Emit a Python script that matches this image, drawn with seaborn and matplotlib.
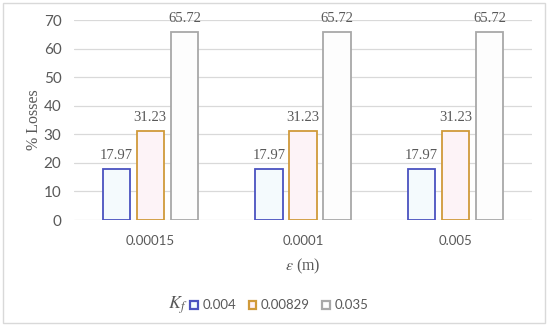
import matplotlib
matplotlib.use('Agg')
import matplotlib.pyplot as plt
from matplotlib.patches import Patch, Rectangle
import seaborn as sns
import pandas as pd

# ── Data ───────────────────────────────────────────────────────────────────────
roughness = ['0.00015', '0.0001', '0.005']
kf_values = ['0.004', '0.00829', '0.035']
losses = {
    '0.004':   [17.97, 17.97, 17.97],
    '0.00829': [31.23, 31.23, 31.23],
    '0.035':   [65.72, 65.72, 65.72],
}

edge_colors = ['#4a52c0', '#d09a3a', '#a8a8a8']
fill_colors = ['#f2fbff', '#fff1f6', '#fdfdfd']
text_color = '#595959'

rows = []
for kf in kf_values:
    for eps, val in zip(roughness, losses[kf]):
        rows.append({'eps': eps, 'kf': kf, 'loss': val})
df = pd.DataFrame(rows)

# ── Plot ───────────────────────────────────────────────────────────────────────
sns.set_theme(style='white')
plt.rcParams['font.family'] = ['Liberation Serif', 'DejaVu Serif']
plt.rcParams['mathtext.fontset'] = 'stix'

fig = plt.figure(figsize=(5.5, 3.32), dpi=100)
ax = fig.add_axes([0.1345, 0.3373, 0.8327, 0.6024])

sns.barplot(data=df, x='eps', y='loss', hue='kf', order=roughness,
            hue_order=kf_values, palette=fill_colors, width=0.67, gap=0.2,
            legend=False, ax=ax)

for cont, ec in zip(ax.containers, edge_colors):
    for bar in cont:
        bar.set_edgecolor(ec)
        bar.set_linewidth(1.3)
    ax.bar_label(cont, fmt='%.2f', padding=5, fontsize=10.5, color=text_color)

ax.set_ylim(0, 70)
ax.set_xlim(-0.5, 2.5)
ax.set_yticks(range(0, 71, 10))
ax.yaxis.grid(True, color='#d9d9d9', linewidth=0.9)
ax.set_axisbelow(True)
for s in ax.spines.values():
    s.set_visible(False)
ax.tick_params(axis='y', length=0, pad=9, labelcolor=text_color)
ax.tick_params(axis='x', length=0, pad=11, labelcolor=text_color)
for lab in ax.get_yticklabels():
    lab.set_fontfamily('Lato')
    lab.set_fontsize(11)
for lab in ax.get_xticklabels():
    lab.set_fontfamily('Lato')
    lab.set_fontsize(9.5)

ax.set_ylabel('% Losses', fontsize=11.5, color=text_color)
ax.yaxis.set_label_coords(-0.07, 0.5)
ax.set_xlabel(r'$\varepsilon$ (m)', fontsize=11.5, color=text_color, labelpad=7)

# legend
handles = [Patch(facecolor=fc, edgecolor=ec, linewidth=1.6)
           for fc, ec in zip(fill_colors, edge_colors)]
fig.legend(handles, kf_values, loc='center', bbox_to_anchor=(0.508, 0.08),
           ncol=3, frameon=False, prop={'family': 'Lato', 'size': 9.5},
           labelcolor=text_color, handlelength=0.6, handleheight=0.6,
           handletextpad=0.35, columnspacing=0.9)
fig.text(178 / 550, 0.08, '$K_f$', fontsize=13, color=text_color,
         ha='center', va='center')

fig.patches.append(Rectangle((0.006, 0.028), 0.984, 0.962, transform=fig.transFigure,
                             fill=False, edgecolor='#d9d9d9', linewidth=1))

plt.savefig('out.png', dpi=100)
plt.close()
